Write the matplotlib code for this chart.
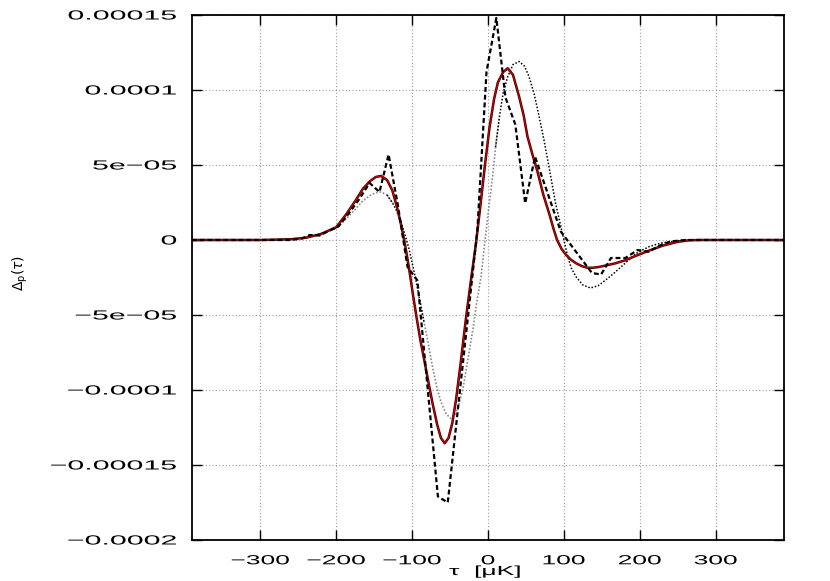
import numpy as np
import matplotlib
matplotlib.use("Agg")
import matplotlib.pyplot as plt
from matplotlib.patheffects import AbstractPathEffect, Stroke, Normal
from matplotlib.transforms import Affine2D

# values, y in units of 1e-5
red_x = [-390, -300, -260, -240, -220, -200, -187, -174, -165, -156, -148, -141, -133,
         -126, -120, -114, -109, -104, -99, -94, -89, -84, -78, -73, -67, -62, -57,
         -52, -47, -42, -36, -29, -22, -16, -10, -4, 2, 8, 13, 20, 26, 33, 41, 47,
         52, 58, 65, 73, 81, 86, 91, 97, 103, 109, 116, 124, 131, 138, 146, 157,
         168, 181, 195, 210, 230, 250, 265, 280, 390]
red_y = [0, 0, 0.05, 0.15, 0.4, 0.85, 1.7, 2.67, 3.4, 3.9, 4.2, 4.27, 4.0,
         3.3, 2.2, 0.9, -0.4, -1.9, -3.6, -5.2, -6.7, -8.0, -9.6, -10.9, -12.3, -13.2, -13.55,
         -13.2, -12.2, -10.6, -8.2, -5.2, -2.5, -0.3, 2.3, 5.0, 7.5, 9.4, 10.5, 11.2, 11.45, 11.0, 9.55, 8.3,
         6.9, 5.8, 4.6, 3.0, 1.7, 0.8, 0, -0.6, -1.0, -1.3, -1.55, -1.75, -1.85, -1.85, -1.8, -1.68,
         -1.55, -1.35, -1.05, -0.75, -0.38, -0.12, -0.02, 0, 0]

dash_x = [-390, -260, -245, -235, -222, -210, -197, -183, -170, -156, -143, -131, -119,
          -106, -93, -66, -53, -14, -2, 11, 23, 36, 49, 62, 96, 137, 149, 162, 181,
          197, 212, 225, 240, 260, 390]
dash_y = [0, 0, 0.1, 0.33, 0.3, 0.6, 0.9, 1.8, 2.7, 3.8, 3.2, 5.7, 2.4,
          -1.8, -2.7, -17.1, -17.5, 0.67, 11.2, 14.8, 9.5, 7.7, 2.45, 5.55, 0.56, -2.2, -2.3, -1.2, -1.2,
          -0.67, -0.78, -0.4, -0.1, 0, 0]

dot_x = [-390, -280, -250, -225, -200, -187, -174, -165, -156, -148, -141, -133, -125.5,
         -120, -114, -109, -104, -95, -90, -84, -78, -73, -67, -62, -55, -49, -43, -38,
         -33, -29, -24, -20, -15, -9, -5, 0, 6, 10, 15, 20, 26, 33, 41, 48, 54, 61,
         67.5, 74, 81, 89, 98, 105, 110, 116, 125, 135, 145, 155, 164, 173, 184, 195,
         212, 228, 243, 260, 390]
dot_y = [0, 0, 0.1, 0.35, 0.78, 1.4, 2.1, 2.6, 2.95, 3.15, 3.2, 3.0, 2.45,
         1.9, 1.1, 0.3, -0.6, -2.67, -4.0, -5.55, -7.1, -8.5, -9.9, -10.8, -11.6, -11.9, -11.6, -10.9,
         -9.9, -8.7, -7.2, -6.0, -4.2, -2.4, -0.5, 1.7, 4.2, 6.2, 8.2, 9.8, 10.9, 11.7, 11.9, 11.6, 10.9, 9.7,
         8.2, 6.6, 4.7, 2.45, 0.45, -1.1, -1.9, -2.45, -3.0, -3.2, -3.05, -2.67, -2.3, -1.9, -1.4, -0.9,
         -0.45, -0.2, -0.1, 0, 0]

x_ticks = [-300, -200, -100, 0, 100, 200, 300]
y_ticks = [-0.0002, -0.00015, -0.0001, -5e-05, 0, 5e-05, 0.0001, 0.00015]

scale = 1e-5


class StretchX(AbstractPathEffect):
    # widen text sideways about a point of its box (gnuplot-like wide lettering)
    def __init__(self, sx=2.0, anchor=0.5):
        super().__init__()
        self.sx = sx
        self.anchor = anchor

    def draw_path(self, renderer, gc, tpath, affine, rgbFace=None):
        ext = tpath.get_extents(affine)
        x0 = ext.x0 + self.anchor * ext.width
        aff = affine + Affine2D().translate(-x0, 0).scale(self.sx, 1).translate(x0, 0)
        renderer.draw_path(gc, tpath, aff, rgbFace)


plt.rcParams["font.family"] = ["Liberation Sans", "DejaVu Sans"]

fig = plt.figure(figsize=(8.3, 5.81), dpi=100)
ax = fig.add_axes([192 / 830, 41 / 581, 592 / 830, 525 / 581])

dot_x = np.array(dot_x)
dot_y = np.array(dot_y) * scale
gray_on = (dot_x <= -125) | ((dot_x >= -90) & (dot_x <= 15))
black_on = ((dot_x >= -133) & (dot_x <= -84)) | (dot_x >= 10)
ax.plot(dot_x, np.ma.masked_where(~gray_on, dot_y), color="#8a8a8a", lw=1.2,
        ls=(0, (1, 1.1)), zorder=3)
ax.plot(dot_x, np.ma.masked_where(~black_on, dot_y), color="black", lw=1.1,
        ls=(0, (1, 1.2)), zorder=3)

ax.plot(red_x, np.array(red_y) * scale, color="#cc0000", lw=0.8, zorder=4,
        path_effects=[Stroke(linewidth=1.8, foreground="#400000"), Normal()])

ax.plot(dash_x, np.array(dash_y) * scale, color="black", lw=1.6,
        ls=(0, (2.2, 1.3)), zorder=5)

ax.set_xlim(-390, 390)
ax.set_ylim(-0.0002, 0.00015)
ax.set_xticks(x_ticks)
ax.set_yticks(y_ticks)
ax.set_xticklabels([str(v).replace("-", "\u2212") for v in x_ticks])
ax.set_yticklabels([("%g" % v).replace("-", "\u2212") for v in y_ticks])

ax.grid(True, color="#9a9a9a", ls=(0, (1, 2)), lw=0.8)
ax.set_axisbelow(True)
ax.tick_params(direction="in", top=True, right=True, length=7, width=1,
               labelsize=9.5, pad=11)
for sp in ax.spines.values():
    sp.set_linewidth(1.3)

for lab in ax.get_xticklabels():
    lab.set_path_effects([StretchX(2.0, 0.5)])
for lab in ax.get_yticklabels():
    lab.set_path_effects([StretchX(2.3, 1.0)])

fig.text(485 / 830, 1 - 572 / 581, "\u03c4  [\u03bcK]", ha="center", va="center",
         fontsize=9.5, path_effects=[StretchX(2.0, 0.5)])
fig.text(20 / 830, 1 - 273 / 581, r"$\Delta_{\mathrm{p}}(\tau)$", ha="center", va="center",
         rotation=90, fontsize=10)

fig.savefig("out.png", dpi=100)
